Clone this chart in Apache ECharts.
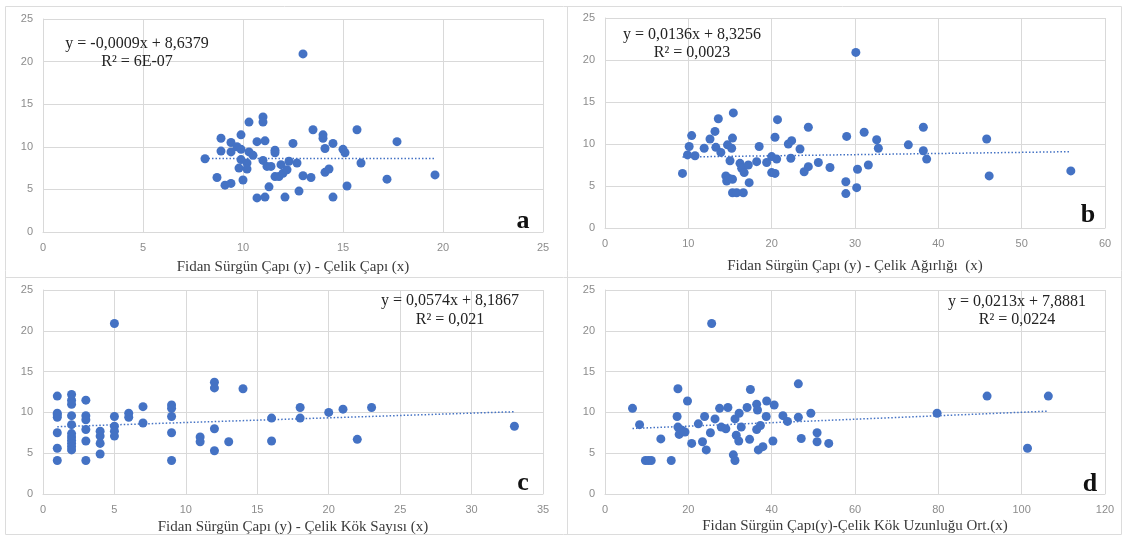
<!DOCTYPE html>
<html><head><meta charset="utf-8">
<script src="https://cdn.jsdelivr.net/npm/echarts@6/dist/echarts.min.js"></script>
<style>html,body{margin:0;padding:0;background:#fff}#c{width:1126px;height:538px}</style>
</head><body><div id="c"></div>
<script>
// Panel a: Çelik Çapı
const aX = [8.1,8.7,8.9,8.9,9.1,9.4,9.4,9.4,9.7,9.9,9.9,9.9,9.8,10.0,10.2,10.2,10.3,10.3,10.5,10.7,10.7,11.0,11.0,11.1,11.0,11.1,11.2,11.4,11.3,11.6,11.6,11.6,11.8,11.9,12.0,12.1,12.2,12.3,12.5,12.7,12.8,13.0,13.0,13.5,13.4,14.0,14.0,14.1,14.1,14.3,14.5,14.5,15.0,15.1,15.2,15.7,15.9,17.2,17.7,19.6];
const aY = [8.6,6.4,11.0,9.5,5.5,5.7,10.5,9.4,10.0,11.4,9.7,8.5,7.5,6.1,8.1,7.4,12.9,9.4,9.0,10.6,4.0,13.5,12.9,10.7,8.4,4.1,7.7,7.7,5.3,9.6,9.3,6.5,6.5,7.9,6.9,4.1,7.3,8.3,10.4,8.1,4.8,20.9,6.6,12.0,6.4,11.4,11.0,9.8,7.0,7.4,10.4,4.1,9.7,9.3,5.4,12.0,8.1,6.2,10.6,6.7];
// Panel b: Çelik Ağırlığı
const bX = [9.3,9.9,10.1,10.4,10.8,11.9,12.6,13.2,13.6,13.3,13.9,14.7,14.5,14.6,14.9,15.0,15.2,15.3,15.4,15.3,15.3,15.8,16.2,16.4,16.7,16.6,17.2,17.3,18.2,18.5,19.4,20.0,20.0,20.4,20.4,20.6,20.7,22.0,22.4,22.3,23.4,23.9,24.4,24.4,25.6,27.0,29.0,28.9,28.9,30.1,30.2,30.3,31.1,31.6,32.6,32.8,36.4,38.2,38.2,38.6,45.8,46.1,55.9];
const bY = [6.5,8.7,9.7,11.0,8.6,9.5,10.6,11.5,13.0,9.6,9.0,9.9,6.2,5.6,5.9,8.0,9.5,10.7,13.7,5.8,4.2,4.2,7.7,7.1,6.6,4.2,7.5,5.4,7.9,9.7,7.8,8.5,6.6,6.5,10.8,8.2,12.9,10.0,10.4,8.3,9.4,6.7,12.0,7.3,7.8,7.2,10.9,5.5,4.1,20.9,4.8,7.0,11.4,7.5,10.5,9.5,9.9,12.0,9.2,8.2,10.6,6.2,6.8];
// Panel c: Çelik Kök Sayısı
const cX = [1,1,1,1,1,1,1, 2,2,2,2,2,2,2,2,2,2,2, 3,3,3,3,3,3, 4,4,4,4, 5,5,5,5,5, 6,6, 7,7, 9,9,9,9,9, 11,11, 12,12,12,12, 13, 14, 16,16, 18,18, 20, 21, 22, 23, 33];
const cY = [12.0,9.9,9.4,9.7,7.5,5.6,4.1, 12.2,11.5,11.0,9.6,8.5,7.4,7.0,6.6,6.2,5.8,5.4, 11.5,9.6,9.1,7.9,6.5,4.1, 7.7,7.1,6.2,4.9, 20.9,9.5,8.3,7.7,7.1, 9.9,9.4, 10.7,8.7, 10.9,10.5,9.5,7.5,4.1, 7.0,6.4, 13.7,13.0,8.0,5.3, 6.4, 12.9, 9.3,6.5, 10.6,9.3, 10.0, 10.4, 6.7, 10.6, 8.3];
// Panel d: Çelik Kök Uzunluğu Ort.
const dX = [6.6,8.3,9.7,10.4,11.1,13.4,15.9,17.5,17.3,17.5,17.8,18.5,19.2,19.8,20.8,22.4,23.4,23.9,24.3,25.3,25.6,26.4,27.5,27.9,29.0,29.5,31.2,30.8,31.2,31.5,32.1,32.2,32.7,34.1,34.7,34.9,36.4,36.6,36.4,36.8,37.3,37.9,38.8,38.7,40.3,40.6,42.7,43.8,46.4,46.4,47.1,49.4,50.9,50.9,53.7,79.7,91.7,101.4,106.4];
const dY = [10.5,8.5,4.1,4.1,4.1,6.75,4.1,12.9,9.5,8.2,7.3,7.8,7.6,11.4,6.2,8.6,6.4,9.5,5.4,7.5,20.9,9.2,10.5,8.2,8.0,10.6,9.2,4.8,4.1,7.2,6.5,9.9,8.2,10.6,6.7,12.8,11.0,10.3,7.9,5.4,8.4,5.8,11.4,9.5,6.5,10.9,9.6,8.9,13.5,9.4,6.8,9.9,7.5,6.4,6.2,9.9,12.0,5.6,12.0];

// trendline coefficients (slope, intercept) as printed
const slopes = [-0.0009, 0.0136, 0.0574, 0.0213];
const intercepts = [8.6379, 8.3256, 8.1867, 7.8881];
const equations = ['y = -0,0009x + 8,6379','y = 0,0136x + 8,3256','y = 0,0574x + 8,1867','y = 0,0213x + 7,8881'];
const r2 = ['R² = 6E-07','R² = 0,0023','R² = 0,021','R² = 0,0224'];
const xNames = ['Fidan Sürgün Çapı (y) - Çelik Çapı (x)','Fidan Sürgün Çapı (y) - Çelik Ağırlığı  (x)','Fidan Sürgün Çapı (y) - Çelik Kök Sayısı (x)','Fidan Sürgün Çapı(y)-Çelik Kök Uzunluğu Ort.(x)'];
const letters = ['a','b','c','d'];
const xMax = [25, 60, 35, 120];
const xInt = [5, 10, 5, 20];
const yMax = 25, yInt = 5;

const xs = [aX,bX,cX,dX], ys = [aY,bY,cY,dY];
const grids = [
  {left:43, top:19, width:500, height:213, gap:28},
  {left:605, top:18, width:500, height:210, gap:31},
  {left:43, top:290, width:500, height:204, gap:26},
  {left:605, top:290, width:500, height:204, gap:25}
];
const BLUE = '#4472C4', GRID = '#d9d9d9';
const option = {animation:false, grid:[], xAxis:[], yAxis:[], series:[], graphic:[]};
for (let i=0;i<4;i++){
  const g = grids[i];
  option.grid.push({left:g.left, top:g.top, width:g.width, height:g.height, containLabel:false});
  option.xAxis.push({type:'value', gridIndex:i, min:0, max:xMax[i], interval:xInt[i],
    name:xNames[i], nameLocation:'middle', nameGap:g.gap,
    nameTextStyle:{fontFamily:'Liberation Serif', fontSize:15, color:'#3a3a3a'},
    axisLine:{show:true, lineStyle:{color:GRID}}, axisTick:{show:false},
    axisLabel:{margin:10, fontFamily:'Liberation Sans', fontSize:11, color:'#8c8c8c'},
    splitLine:{show:true, lineStyle:{color:GRID}}});
  option.yAxis.push({type:'value', gridIndex:i, min:0, max:yMax, interval:yInt,
    axisLine:{show:true, lineStyle:{color:GRID}}, axisTick:{show:false},
    axisLabel:{margin:10, fontFamily:'Liberation Sans', fontSize:11, color:'#8c8c8c'},
    splitLine:{show:true, lineStyle:{color:GRID}}});
  const pts = xs[i].map((x,k)=>[x, ys[i][k]]);
  option.series.push({type:'scatter', xAxisIndex:i, yAxisIndex:i, data:pts, symbolSize:9,
    itemStyle:{color:BLUE, opacity:1}, z:3});
  const lo = Math.min(...xs[i]), hi = Math.max(...xs[i]);
  option.series.push({type:'line', xAxisIndex:i, yAxisIndex:i, showSymbol:false, symbol:'none',
    data:[[lo, slopes[i]*lo+intercepts[i]],[hi, slopes[i]*hi+intercepts[i]]],
    lineStyle:{color:BLUE, width:1.5, type:[1.5,2]}, z:2, silent:true});
}
// frame lines
const frame = [
  {type:'rect', shape:{x:5.5,y:6.5,width:1116,height:528}, style:{fill:'none', stroke:'#dcdcdc', lineWidth:1}},
  {type:'line', shape:{x1:567.5,y1:6,x2:567.5,y2:535}, style:{stroke:'#dcdcdc', lineWidth:1}},
  {type:'line', shape:{x1:5,y1:277.5,x2:1122,y2:277.5}, style:{stroke:'#dcdcdc', lineWidth:1}}
];
const eqPos = [[137,44,62],[692,35,53],[450,301,320],[1017,302,320]];
const letPos = [[523,221],[1088,215],[523,483],[1090,484]];
const texts = [];
for (let i=0;i<4;i++){
  texts.push({type:'text', z:10, style:{text:equations[i], x:eqPos[i][0], y:eqPos[i][1], textAlign:'center', textVerticalAlign:'middle', font:'16px "Liberation Serif"', fill:'#222'}});
  texts.push({type:'text', z:10, style:{text:r2[i], x:eqPos[i][0], y:eqPos[i][2], textAlign:'center', textVerticalAlign:'middle', font:'16px "Liberation Serif"', fill:'#222'}});
  texts.push({type:'text', z:10, style:{text:letters[i], x:letPos[i][0], y:letPos[i][1], textAlign:'center', textVerticalAlign:'middle', font:'bold 26px "Liberation Serif"', fill:'#111'}});
}
option.graphic = frame.concat(texts);
echarts.init(document.getElementById('c'), null, {renderer:'canvas'}).setOption(option);
</script></body></html>
